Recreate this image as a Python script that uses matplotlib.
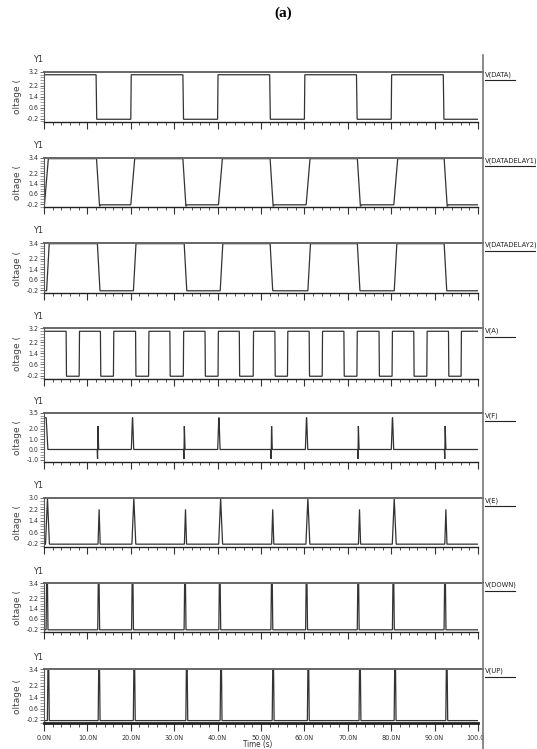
import matplotlib
matplotlib.use('Agg')
import matplotlib.pyplot as plt
from matplotlib.ticker import MultipleLocator, FixedLocator, FixedFormatter
from matplotlib.lines import Line2D
from matplotlib.patches import Rectangle

#%% data (times in ns, values in V)

x_ticks = [0, 10, 20, 30, 40, 50, 60, 70, 80, 90, 100]
x_labels = ['0.0N', '10.0N', '20.0N', '30.0N', '40.0N', '50.0N',
            '60.0N', '70.0N', '80.0N', '90.0N', '100.0N']

names = ['V(DATA)', 'V(DATADELAY1)', 'V(DATADELAY2)', 'V(A)',
         'V(F)', 'V(E)', 'V(DOWN)', 'V(UP)']

# y tick labels per panel (bottom -> top), the top one is the axis top
yt_data = [-0.2, 0.6, 1.4, 2.2, 3.2]
yt_delay = [-0.2, 0.6, 1.4, 2.2, 3.4]
yt_a = [-0.2, 0.6, 1.4, 2.2, 3.2]
yt_f = [-1.0, 0.0, 1.0, 2.0, 3.5]
yt_e = [-0.2, 0.6, 1.4, 2.2, 3.0]
yt_down = [-0.2, 0.6, 1.4, 2.2, 3.4]
yt_up = [-0.2, 0.6, 1.4, 2.2, 3.4]

# V(DATA): starts high
data_fall = [12.0, 32.0, 52.0, 72.0, 92.0]
data_rise = [20.0, 40.0, 60.0, 80.0]
data_hi, data_lo = 3.0, -0.25

# V(DATADELAY1): starts low
d1_rise = [0.1, 20.0, 40.2, 60.4, 80.6]
d1_fall = [12.1, 32.0, 52.1, 72.2, 92.2]
d1_hi, d1_lo = 3.35, -0.25

# V(DATADELAY2)
d2_rise = [0.6, 20.6, 40.6, 60.8, 80.7]
d2_fall = [12.3, 32.3, 52.1, 72.2, 92.2]
d2_hi, d2_lo = 3.35, -0.25

# V(A): starts high
a_fall = [5.1, 13.0, 21.1, 29.0, 37.1, 45.0, 53.2, 61.1, 69.1, 77.2, 85.2, 93.2]
a_rise = [8.1, 16.0, 24.1, 32.1, 40.1, 48.2, 56.1, 64.1, 72.1, 80.2, 88.2, 96.1]
a_hi, a_lo = 3.0, -0.25

# V(F): spikes
f_tall = [20.4, 40.3, 60.5, 80.3]
f_short = [12.4, 32.3, 52.4, 72.4, 92.4]
f_base, f_tall_pk, f_short_pk, f_dip = 0.0, 3.05, 2.25, -0.9
f_start_pk = 3.05

# V(E): spikes
e_tall = [0.8, 20.7, 40.7, 60.8, 80.7]
e_short = [12.7, 32.6, 52.7, 72.7, 92.6]
e_base, e_tall_pk, e_short_pk = -0.25, 3.0, 2.2

# V(DOWN), V(UP): narrow pulses to the rail
down_t = [0.7, 12.6, 20.4, 32.5, 40.5, 52.5, 60.5, 72.4, 80.5, 92.4]
up_t = [1.0, 12.7, 20.8, 32.9, 40.8, 52.8, 60.9, 72.8, 80.9, 92.8]
dn_base, dn_pk = -0.25, 3.35
up_base, up_pk = -0.25, 3.35


def square(rises, falls, hi, lo, start_hi, tr, tf, dip=0.0):
    ev = [(t, 1) for t in rises] + [(t, 0) for t in falls]
    ev.sort()
    cur = hi if start_hi else lo
    tt, vv = [0.0], [cur]
    for t0, kind in ev:
        tt.append(t0)
        vv.append(cur)
        if kind == 1:
            tt.append(t0 + tr)
            vv.append(hi)
            cur = hi
        else:
            if dip:
                tt += [t0 + tf, t0 + tf + 0.25]
                vv += [lo - dip, lo]
            else:
                tt.append(t0 + tf)
                vv.append(lo)
            cur = lo
    tt.append(100.0)
    vv.append(cur)
    return tt, vv


def spikes(centers, base, peak, rise, flat, tt=None, vv=None):
    if tt is None:
        tt, vv = [0.0], [base]
    for c in centers:
        tt += [c - flat / 2 - rise, c - flat / 2, c + flat / 2, c + flat / 2 + rise]
        vv += [base, peak, peak, base]
    return tt, vv


def finish(tt, vv):
    pts = sorted(zip(tt, vv), key=lambda p: p[0])
    return [p[0] for p in pts], [p[1] for p in pts]


waves = []
waves.append(square(data_rise, data_fall, data_hi, data_lo, True, 0.1, 0.15))
waves.append(square(d1_rise, d1_fall, d1_hi, d1_lo, False, 0.9, 0.7, dip=0.12))
waves.append(square(d2_rise, d2_fall, d2_hi, d2_lo, False, 0.6, 0.6))
waves.append(square(a_rise, a_fall, a_hi, a_lo, True, 0.08, 0.08))

# F
ft, fv = [0.0, 0.5, 0.9], [f_start_pk, f_start_pk, f_base]
ft, fv = spikes(f_tall, f_base, f_tall_pk, 0.25, 0.05, ft, fv)
for c in f_short:
    ft += [c - 0.15, c - 0.06, c + 0.04, c + 0.2]
    fv += [f_base, f_dip, f_short_pk, f_base]
ft.append(100.0)
fv.append(f_base)
waves.append(finish(ft, fv))

# E
et, ev = spikes(e_tall, e_base, e_tall_pk, 0.45, 0.0)
et, ev = spikes(e_short, e_base, e_short_pk, 0.25, 0.0, et, ev)
et.append(100.0)
ev.append(e_base)
waves.append(finish(et, ev))

# DOWN / UP
dt_, dv = spikes(down_t, dn_base, dn_pk, 0.12, 0.2)
dt_.append(100.0)
dv.append(dn_base)
waves.append(finish(dt_, dv))
ut, uv = spikes(up_t, up_base, up_pk, 0.12, 0.2)
ut.append(100.0)
uv.append(up_base)
waves.append(finish(ut, uv))

yticks = [yt_data, yt_delay, yt_delay, yt_a, yt_f, yt_e, yt_down, yt_up]
ybottom = [-0.45, -0.42, -0.42, -0.45, -1.2, -0.45, -0.42, -0.42]
yminor = [0.2, 0.2, 0.2, 0.2, 0.25, 0.2, 0.2, 0.2]

#%% layout (pixels)
W, H = 537, 749
tops = [72, 158, 243, 328.5, 413, 498, 583, 669]
bots = [122, 207, 293, 379, 462, 547, 632, 723]
x0, x1, xsep = 44, 478, 483

narrow = ['Liberation Sans Narrow', 'DejaVu Sans']
squeeze = 'condensed'

fig = plt.figure(figsize=(W / 100, H / 100), dpi=100)
fig.patch.set_facecolor('white')

for i in range(8):
    ax = fig.add_axes([x0 / W, 1 - bots[i] / H, (x1 - x0) / W, (bots[i] - tops[i]) / H])
    t, v = waves[i]
    ax.plot(t, v, color='#333333', lw=0.9, solid_joinstyle='miter')
    ax.set_xlim(0, 100)
    ax.set_ylim(ybottom[i], yticks[i][-1])

    for s in ['top', 'right']:
        ax.spines[s].set_visible(False)
    ax.spines['left'].set_color('#555555')
    ax.spines['left'].set_linewidth(0.8)
    ax.spines['bottom'].set_color('#222222')
    ax.spines['bottom'].set_linewidth(2.0 if i == 7 else 1.0)

    # top line runs to the separator
    ax.add_line(Line2D([0, (xsep - x0) / (x1 - x0)], [1, 1], transform=ax.transAxes,
                       color='#666666', lw=1.4, clip_on=False))

    ax.xaxis.set_major_locator(FixedLocator(x_ticks))
    ax.xaxis.set_minor_locator(MultipleLocator(2))
    big = 6 if i == 7 else 5
    ax.tick_params(axis='x', which='major', direction='out', length=big, width=0.8,
                   color='#333333', pad=2.5)
    ax.tick_params(axis='x', which='minor', direction='out', length=big * 0.5,
                   width=0.6, color='#333333')
    if i == 7:
        ax.xaxis.set_major_formatter(FixedFormatter(x_labels))
        for lab in ax.get_xticklabels():
            lab.set_fontsize(5.2)
            lab.set_family(narrow)
            lab.set_stretch(squeeze)
            lab.set_color('#333333')
    else:
        ax.set_xticklabels([])

    ax.yaxis.set_major_locator(FixedLocator(yticks[i]))
    ax.yaxis.set_major_formatter(FixedFormatter(['%.1f' % y for y in yticks[i]]))
    ax.yaxis.set_minor_locator(MultipleLocator(yminor[i]))
    ax.tick_params(axis='y', which='major', direction='out', length=3, width=0.6,
                   color='#555555', pad=1)
    ax.tick_params(axis='y', which='minor', direction='out', length=3, width=0.5,
                   color='#777777')
    for lab in ax.get_yticklabels():
        lab.set_fontsize(5)
        lab.set_family(narrow)
        lab.set_stretch(squeeze)
        lab.set_color('#333333')

    # Y1 and clipped axis title
    fig.text(39 / W, 1 - (tops[i] - 12) / H, 'Y1', ha='center', va='center',
             fontsize=6.5, family=narrow, stretch=squeeze, color='#333333')
    fig.text(17 / W, 1 - (tops[i] + bots[i]) / 2 / H, 'oltage (', rotation=90,
             ha='center', va='center', fontsize=6.5, color='#444444')

    # right side signal name, underlined
    fig.text(485 / W, 1 - (tops[i] - 1) / H, names[i], ha='left', va='top',
             fontsize=5.4, family=narrow, stretch=squeeze, color='#222222')
    ulen = 50 if 'DELAY' in names[i] else 30
    fig.add_artist(Line2D([485 / W, (485 + ulen) / W],
                          [1 - (tops[i] + 8) / H] * 2, color='#222222', lw=0.8))

# separator line
fig.add_artist(Line2D([xsep / W, xsep / W], [1 - 55 / H, 0], color='#777777', lw=1.2))
# hide the part of the last tick label behind the separator
fig.add_artist(Rectangle(((xsep + 0.8) / W, 0), (W - xsep) / W, 16 / H,
                         transform=fig.transFigure, facecolor='white',
                         edgecolor='none', zorder=5))

fig.text(258 / W, 0.5 / H, 'Time (s)', ha='center', va='bottom', fontsize=5.8,
         family=narrow, stretch=squeeze, color='#333333')
fig.text(283 / W, 1 - 13 / H, '(a)', ha='center', va='center', fontsize=11,
         fontweight='bold', family=['Liberation Serif', 'DejaVu Serif'])

fig.savefig('out.png', dpi=100, facecolor='white')
